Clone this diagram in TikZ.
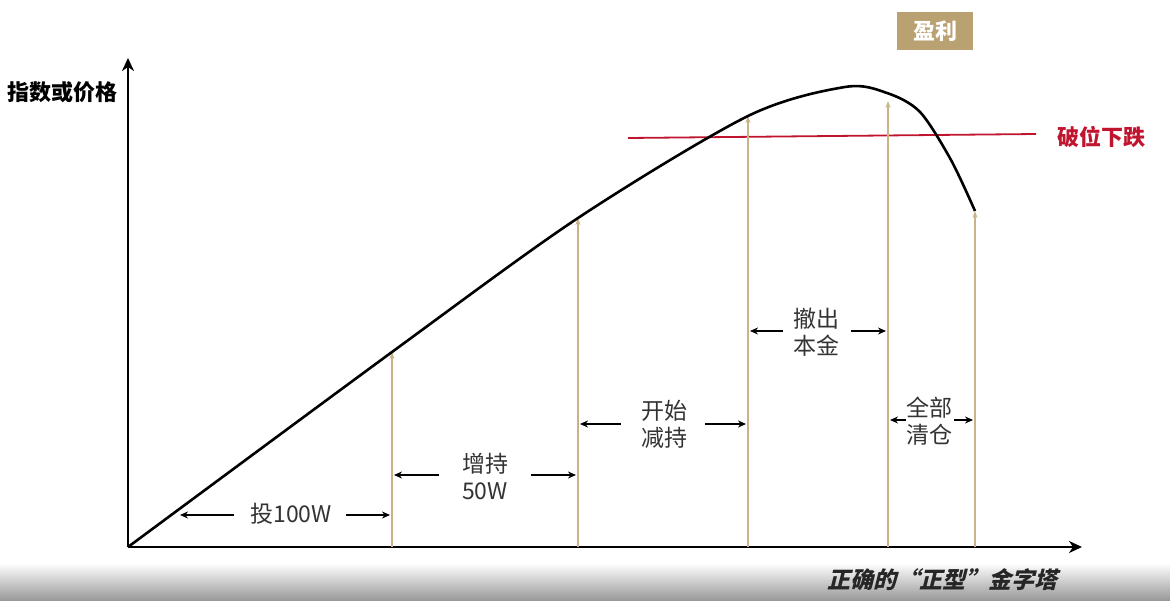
\documentclass[tikz,border=0pt]{standalone}
\usepackage{fontspec}
\setmainfont{Noto Sans CJK SC}
\newfontfamily\cjkslant{Noto Sans CJK SC}[FakeSlant=0.25]
\usetikzlibrary{arrows.meta}
\definecolor{tanc}{HTML}{C9B48A}
\definecolor{boxc}{HTML}{B9A172}
\definecolor{redc}{HTML}{C0152F}
\definecolor{txtc}{HTML}{333333}
\tikzset{
  axis/.style={line width=2.6pt, -{Stealth[length=13pt,width=12pt,inset=4pt]}},
  tanarrow/.style={draw=tanc, line width=1.6pt, -{Stealth[length=7pt,width=5pt]}},
  dimarrow/.style={draw=black, line width=1.6pt, -{Stealth[length=8pt,width=7pt]}},
  lbl/.style={text=txtc, font=\fontsize{23}{27}\selectfont, align=center, inner sep=0pt},
}
\begin{document}
\begin{tikzpicture}[x=1pt,y=-1pt]
\useasboundingbox (0,0) rectangle (1170,600);
% bottom bar
\shade[top color=white, bottom color=black!40] (0,563) rectangle (1170,600);
\node[font=\cjkslant\bfseries\fontsize{23}{26}\selectfont, text=black!85] (title) at (942,580) {正确的“正型”金字塔};
% axes
\coordinate (O) at (128,547);
\coordinate (ytop) at (128,58);
\coordinate (xend) at (1082,547);
\draw[axis] (O) -- (ytop);
\draw[axis] (O) -- (xend);
\node[font=\bfseries\fontsize{22}{26}\selectfont] (ylabel) at (63,92) {指数或价格};
% curve points
\coordinate (c1) at (392,352);
\coordinate (c2) at (578,218);
\coordinate (c3) at (748,116);
\coordinate (c4) at (888,101);
\coordinate (c5) at (975,211);
\coordinate (b1) at (392,547);
\coordinate (b2) at (578,547);
\coordinate (b3) at (748,547);
\coordinate (b4) at (888,547);
\coordinate (b5) at (975,547);
% red line
\coordinate (r1) at (628,138);
\coordinate (r2) at (1036,134);
\draw[redc, line width=1.8pt] (r1) -- (r2);
\node[font=\bfseries\fontsize{22}{26}\selectfont, text=redc, anchor=west] (break) at (1054,137) {破位下跌};
% tan arrows
\draw[tanarrow] (b1) -- (c1);
\draw[tanarrow] (b2) -- (c2);
\draw[tanarrow] (b3) -- (c3);
\draw[tanarrow] (b4) -- (c4);
\draw[tanarrow] (b5) -- (c5);
% curve
\draw[line width=2.6pt] plot[smooth, tension=0.5] coordinates {(128,547) (392,352) (578,218) (748,116) (845,87) (887,93) (920,112) (951,160) (975,211)};
% profit box
\node[fill=boxc, text=white, font=\bfseries\fontsize{22}{26}\selectfont, minimum width=76pt, minimum height=38pt, inner sep=0pt] (profit) at (935,31) {盈利};
% dimension labels
\node[lbl] (l1) at (291,514) {投100W};
\coordinate (l1a) at (180,515); \coordinate (l1b) at (390,515);
\draw[dimarrow] (234,515) -- (l1a);
\draw[dimarrow] (346,515) -- (l1b);
\node[lbl] (l2) at (485,476) {增持\\50W};
\draw[dimarrow] (439,475) -- (394,475);
\draw[dimarrow] (531,475) -- (576,475);
\node[lbl] (l3) at (664,424) {开始\\减持};
\draw[dimarrow] (621,424) -- (580,424);
\draw[dimarrow] (705,424) -- (746,424);
\node[lbl] (l4) at (816,332) {撤出\\本金};
\draw[dimarrow] (783,331) -- (750,331);
\draw[dimarrow] (851,331) -- (886,331);
\node[lbl] (l5) at (929,421) {全部\\清仓};
\draw[dimarrow] (906,420) -- (890,420);
\draw[dimarrow] (954,420) -- (973,420);
\end{tikzpicture}
\end{document}
